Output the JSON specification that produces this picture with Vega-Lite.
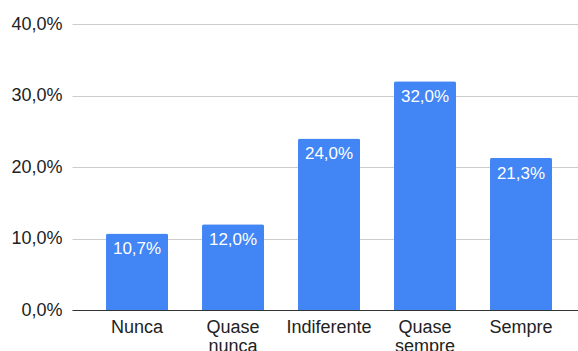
{
  "$schema": "https://vega.github.io/schema/vega-lite/v6.json",
  "width": 506,
  "height": 286,
  "autosize": "none",
  "padding": {"left": 72, "top": 24, "right": 0, "bottom": 41},
  "background": "white",
  "config": {
    "view": {"stroke": null},
    "locale": {"number": {"decimal": ",", "thousands": ".", "grouping": [3], "currency": ["R$", ""]}},
    "font": "Liberation Sans"
  },
  "data": {
    "values": [
      {"resposta": "Nunca", "pct": 0.107},
      {"resposta": "Quase nunca", "pct": 0.12},
      {"resposta": "Indiferente", "pct": 0.24},
      {"resposta": "Quase sempre", "pct": 0.32},
      {"resposta": "Sempre", "pct": 0.213}
    ]
  },
  "encoding": {
    "x": {
      "field": "resposta",
      "type": "nominal",
      "sort": null,
      "scale": {"paddingInner": 0.354, "paddingOuter": 0.3125, "align": 0.567},
      "axis": {
        "title": null,
        "labelAngle": 0,
        "ticks": false,
        "domainColor": "#333333",
        "domainWidth": 1,
        "labelFont": "Liberation Sans",
        "labelFontSize": 18,
        "labelColor": "#222222",
        "labelPadding": 8,
        "labelLineHeight": 19,
        "labelExpr": "split(datum.label, ' ')"
      }
    },
    "y": {
      "field": "pct",
      "type": "quantitative",
      "scale": {"domain": [0, 0.4]},
      "axis": {
        "title": null,
        "format": ".1%",
        "values": [0, 0.1, 0.2, 0.3, 0.4],
        "domain": false,
        "ticks": false,
        "gridColor": "#cccccc",
        "labelFont": "Liberation Sans",
        "labelFontSize": 18,
        "labelColor": "#222222",
        "labelPadding": 10
      }
    }
  },
  "layer": [
    {
      "mark": {"type": "bar", "color": "#4285f4", "cornerRadiusTopLeft": 2, "cornerRadiusTopRight": 2}
    },
    {
      "mark": {"type": "text", "color": "white", "baseline": "alphabetic", "dy": 21, "fontSize": 17, "font": "Liberation Sans"},
      "encoding": {"text": {"field": "pct", "type": "quantitative", "format": ".1%"}}
    }
  ]
}
